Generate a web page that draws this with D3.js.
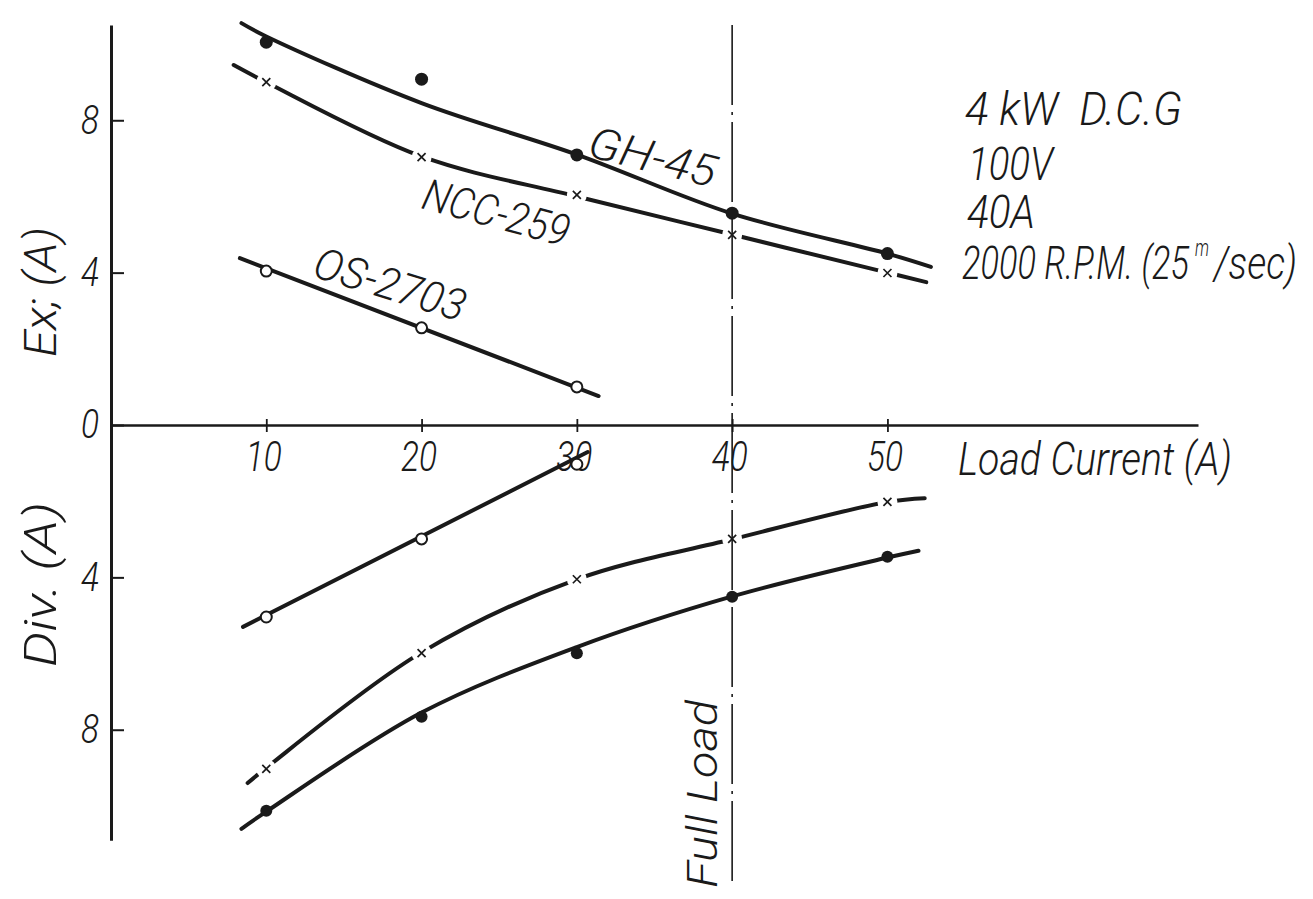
<!DOCTYPE html>
<html>
<head>
<meta charset="utf-8">
<script src="https://cdn.jsdelivr.net/npm/d3@7"></script>
<style>
  body { margin: 0; background: #fff; }
  text { font-family: Roboto, "DejaVu Sans", sans-serif; font-style: italic; font-weight: 300; fill: #1a1a1a; white-space: pre; }
</style>
</head>
<body>
<script>
// measured points (load current in A)
const loads = [10, 20, 30, 40, 50];
const loadsOS = [10, 20, 30];
const exGH = [10.05, 9.08, 7.09, 5.56, 4.5];
const exNCC = [9.0, 7.03, 6.04, 4.99, 3.99];
const exOS = [4.04, 2.55, 1.0];
const divGH = [10.13, 7.66, 5.99, 4.51, 3.46];
const divNCC = [9.03, 5.99, 4.05, 2.99, 2.02];
const divOS = [5.04, 2.99, 1.03];

// drawn-in curves [load, value]
const exGHcurve = [[8.4, 10.55], [10, 10.2], [20, 8.45], [30, 7.1], [40, 5.55], [50, 4.5], [52.8, 4.15]];
const exNCCcurve = [[7.9, 9.45], [10, 9.0], [20, 7.05], [30, 6.0], [40, 5.0], [50, 4.0], [52.5, 3.75]];
const exOScurve = [[8.3, 4.38], [31.4, 0.76]];
const divGHcurve = [[8.4, 10.6], [10, 10.15], [20, 7.55], [30, 5.83], [40, 4.5], [50, 3.48], [52, 3.3]];
const divNCCcurve = [[8.8, 9.4], [10, 9.0], [20, 5.97], [30, 4.05], [40, 3.0], [50, 2.02], [52.4, 1.92]];
const divOScurve = [[8.5, 5.3], [30.7, 0.71]];

// ticks
const xTicks = [10, 20, 30, 40, 50];
const yTicks = [8, 4, 0, -4, -8];   // lower half is Div., shown as positive
const fullLoad = 40;

const ink = '#1a1a1a';
const svg = d3.select('body').append('svg')
  .attr('width', 1313).attr('height', 899)
  .style('background', '#fff');

const xScale = d3.scaleLinear().domain([0, 70]).range([111, 1198]);
const yScale = d3.scaleLinear().domain([-11, 11]).range([844, 6]);

function fit(sel, len) {
  return sel.attr('textLength', len).attr('lengthAdjust', 'spacingAndGlyphs');
}

// y axis
const yAxisScale = yScale.copy().domain([-10.9, 10.5]).range([yScale(-10.9), yScale(10.5)]);
const yAxis = d3.axisLeft(yAxisScale)
  .tickValues(yTicks)
  .tickFormat(d => Math.abs(d))
  .tickSizeInner(-13).tickSizeOuter(0).tickPadding(12);
const yAxisDraw = svg.append('g')
  .attr('transform', `translate(${xScale(0)},0)`)
  .call(yAxis)
  .attr('font-family', null).attr('font-size', null);
yAxisDraw.select('.domain').attr('stroke', ink).style('stroke-width', 3);
yAxisDraw.selectAll('.tick line').attr('stroke', ink).style('stroke-width', 2);
yAxisDraw.selectAll('.tick text').style('font-size', '40px').attr('fill', ink)
  .call(s => fit(s, 18));

// x axis
const xAxis = d3.axisBottom(xScale)
  .tickValues(xTicks)
  .tickSizeInner(6).tickSizeOuter(0);
const xAxisDraw = svg.append('g')
  .attr('transform', `translate(0,${yScale(0)})`)
  .call(xAxis)
  .attr('font-family', null).attr('font-size', null);
xAxisDraw.select('.domain').attr('stroke', ink).style('stroke-width', 2.5);
xAxisDraw.selectAll('.tick line').attr('y1', -6).attr('y2', 7).attr('stroke', ink).style('stroke-width', 1.8);
xAxisDraw.selectAll('.tick text')
  .attr('y', 46).attr('dy', null).attr('dx', -3)
  .style('font-size', '43px').attr('fill', ink)
  .call(s => fit(s, 36));

// curves
const line = d3.line()
  .x(d => xScale(d[0]))
  .y(d => yScale(d[1]))
  .curve(d3.curveCatmullRom.alpha(0.5));
const neg = arr => arr.map(d => [d[0], -d[1]]);

const curves = [exGHcurve, exNCCcurve, exOScurve, neg(divGHcurve), neg(divNCCcurve), neg(divOScurve)];
svg.append('g').selectAll('path')
  .data(curves)
  .enter().append('path')
  .attr('d', line)
  .attr('fill', 'none')
  .attr('stroke', ink)
  .attr('stroke-width', 4)
  .attr('stroke-linecap', 'round');

// breaks in the NCC-259 lines around the crosses
const nccPts = loads.map((l, i) => [l, exNCC[i]]).concat(loads.map((l, i) => [l, -divNCC[i]]));
svg.append('g').selectAll('circle')
  .data(nccPts)
  .enter().append('circle')
  .attr('cx', d => xScale(d[0]))
  .attr('cy', d => yScale(d[1]))
  .attr('r', 10)
  .attr('fill', '#fff');

// full load line
svg.append('line')
  .attr('x1', xScale(fullLoad)).attr('x2', xScale(fullLoad))
  .attr('y1', yScale(10.5)).attr('y2', 886)
  .attr('stroke', ink).attr('stroke-width', 1.6)
  .attr('stroke-dasharray', '80,7,3,7');

// crosses
svg.append('g').selectAll('path')
  .data(nccPts)
  .enter().append('path')
  .attr('transform', d => `translate(${xScale(d[0])},${yScale(d[1])})`)
  .attr('d', 'M-4,-4L4,4M-4,4L4,-4')
  .attr('stroke', ink).attr('stroke-width', 1.7);

// GH-45 filled dots
const ghPts = loads.map((l, i) => [l, exGH[i], 6.5]).concat(loads.map((l, i) => [l, -divGH[i], 6]));
svg.append('g').selectAll('circle')
  .data(ghPts)
  .enter().append('circle')
  .attr('cx', d => xScale(d[0]))
  .attr('cy', d => yScale(d[1]))
  .attr('r', d => d[2])
  .attr('fill', ink);

// OS-2703 open circles
const osPts = loadsOS.map((l, i) => [l, exOS[i]]).concat(loadsOS.map((l, i) => [l, -divOS[i]]));
svg.append('g').selectAll('circle')
  .data(osPts)
  .enter().append('circle')
  .attr('cx', d => xScale(d[0]))
  .attr('cy', d => yScale(d[1]))
  .attr('r', 5.5)
  .attr('fill', '#fff')
  .attr('stroke', ink).attr('stroke-width', 2);

// curve labels
function curveLabel(txt, x, y, angle, len) {
  svg.append('text')
    .attr('transform', `translate(${x},${y}) rotate(${angle})`)
    .style('font-size', '44px')
    .text(txt)
    .call(s => fit(s, len));
}
curveLabel('GH-45', 586, 156, 14, 130);
curveLabel('NCC-259', 420, 208, 15, 150);
curveLabel('OS-2703', 311, 276, 17, 156);

// axis titles
function vLabel(txt, x, y, len, size) {
  svg.append('text')
    .attr('transform', `translate(${x},${y}) rotate(-90)`)
    .style('font-size', size + 'px')
    .text(txt)
    .call(s => fit(s, len));
}
vLabel('Ex; (A)', 56, 357, 130, 44);
vLabel('Div. (A)', 56, 667, 165, 44);
vLabel('Full Load', 717, 888, 188, 42);

svg.append('text')
  .attr('x', 958).attr('y', 475)
  .style('font-size', '47px')
  .text('Load Current (A)')
  .call(s => fit(s, 274));

// machine data block
const info = [
  { t: '4 kW  D.C.G', x: 965, y: 125, len: 217, size: 47 },
  { t: '100V', x: 968, y: 180, len: 85, size: 47 },
  { t: '40A', x: 967, y: 228, len: 68, size: 47 },
  { t: '2000 R.P.M. (25', x: 962, y: 279, len: 227, size: 47 },
  { t: 'm', x: 1195, y: 256, len: 14, size: 24 },
  { t: '/sec)', x: 1214, y: 279, len: 83, size: 47 }
];
info.forEach(d => {
  svg.append('text').attr('x', d.x).attr('y', d.y)
    .style('font-size', d.size + 'px').text(d.t)
    .call(s => fit(s, d.len));
});
</script>
</body>
</html>
